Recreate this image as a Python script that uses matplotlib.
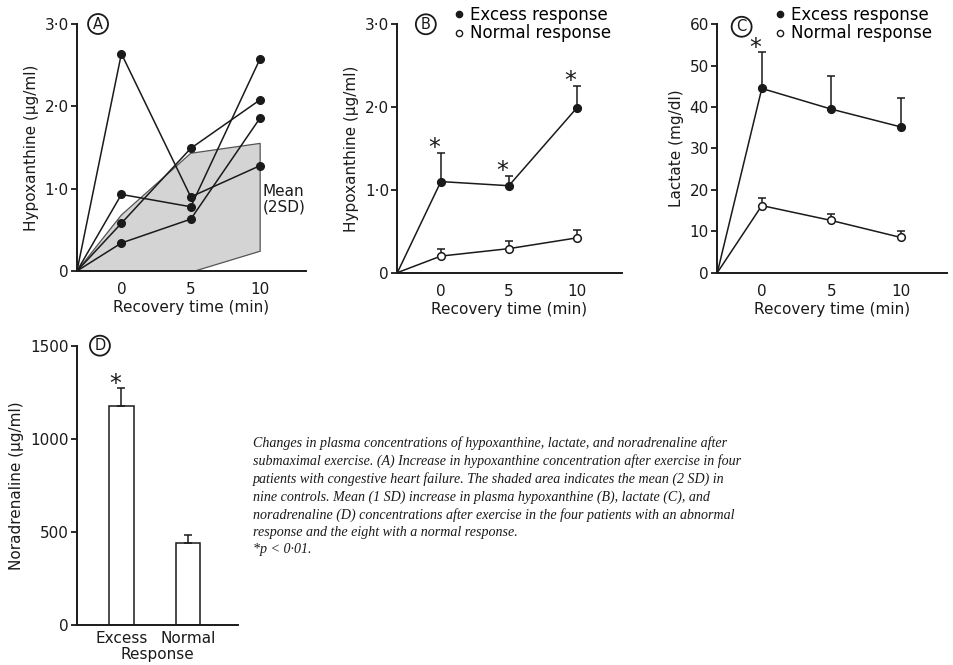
import matplotlib.pyplot as plt
from matplotlib.lines import Line2D

plt.rcParams['font.family'] = ['DejaVu Sans']

# ---- data ----
# panel A: individual patients, time -3.2 is the pre-exercise start point
time_pts = [-3.2, 0, 5, 10]
patient_1 = [0, 2.64, 0.90, 1.28]
patient_2 = [0, 0.93, 0.78, 2.58]
patient_3 = [0, 0.58, 1.49, 2.08]
patient_4 = [0, 0.34, 0.63, 1.86]
ctrl_upper_t = [-3.2, 0, 5, 10]
ctrl_upper = [0, 0.68, 1.43, 1.55]
ctrl_lower_t = [10, 5.3, -3.2]
ctrl_lower = [0.24, 0, 0]

# panel B: hypoxanthine (ug/ml)
hx_excess = [0, 1.10, 1.05, 1.99]
hx_excess_sd = [0.35, 0.12, 0.27]
hx_normal = [0, 0.20, 0.29, 0.42]
hx_normal_sd = [0.08, 0.09, 0.09]

# panel C: lactate (mg/dl)
lac_excess = [0, 44.5, 39.5, 35.2]
lac_excess_sd = [8.8, 8.0, 7.0]
lac_normal = [0, 16.2, 12.6, 8.5]
lac_normal_sd = [1.9, 1.6, 1.6]

# panel D: noradrenaline
groups = ['Excess', 'Normal']
noradr = [1175, 442]
noradr_sd = [95, 40]

hx_ticks = [0, 1, 2, 3]
hx_ticklabels = ['0', '1·0', '2·0', '3·0']
time_ticks = [0, 5, 10]

caption = ("Changes in plasma concentrations of hypoxanthine, lactate, and noradrenaline after\n"
           "submaximal exercise. (A) Increase in hypoxanthine concentration after exercise in four\n"
           "patients with congestive heart failure. The shaded area indicates the mean (2 SD) in\n"
           "nine controls. Mean (1 SD) increase in plasma hypoxanthine (B), lactate (C), and\n"
           "noradrenaline (D) concentrations after exercise in the four patients with an abnormal\n"
           "response and the eight with a normal response.\n"
           "*p < 0·01.")

INK = '#1a1a1a'
FS = 11


def style_axes(ax):
    for side in ['top', 'right']:
        ax.spines[side].set_visible(False)
    for side in ['left', 'bottom']:
        ax.spines[side].set_color(INK)
        ax.spines[side].set_linewidth(1.4)
    ax.tick_params(axis='y', direction='out', length=4, width=1.3, colors=INK, labelsize=FS, pad=2)
    ax.tick_params(axis='x', length=0, colors=INK, labelsize=FS, pad=8)


def circled(ax, letter, x, y):
    ax.text(x, y, letter, transform=ax.transAxes, ha='center', va='center', fontsize=10.5,
            color=INK, clip_on=False,
            bbox=dict(boxstyle='circle,pad=0.17', fc='white', ec=INK, lw=1.3))


def time_axes(ax):
    style_axes(ax)
    ax.set_xlim(-3.2, 13.3)
    ax.set_xticks(time_ticks)
    ax.set_xlabel('Recovery time (min)', fontsize=FS, color=INK, labelpad=2)


def mean_sd(ax, vals, sd, filled):
    ax.plot(time_pts, vals, color=INK, lw=1.1, zorder=2)
    ax.errorbar(time_pts[1:], vals[1:], yerr=[[0] * len(sd), sd], fmt='none',
                ecolor=INK, elinewidth=1.1, capsize=3, capthick=1.1, zorder=2)
    ax.plot(time_pts[1:], vals[1:], 'o', ms=5.5, mec=INK, mew=1.1,
            mfc=INK if filled else 'white', zorder=3)


def star(ax, x, y):
    ax.annotate('*', (x, y), xytext=(-4.5, -5.5), textcoords='offset points', fontsize=17,
                ha='center', va='bottom', color=INK, annotation_clip=False)


def legend(ax, x0):
    handles = [Line2D([], [], ls='none', marker='o', ms=4.5, mfc=INK, mec=INK),
               Line2D([], [], ls='none', marker='o', ms=4.5, mfc='white', mec=INK)]
    ax.legend(handles, ['Excess response', 'Normal response'], loc='upper left',
              bbox_to_anchor=(x0, 1.075), frameon=False, fontsize=12, handlelength=0.5,
              handletextpad=0.4, labelspacing=0.05, borderpad=0, borderaxespad=0)


fig = plt.figure(figsize=(9.54, 6.65), dpi=100)

# A
axA = fig.add_axes([0.0807, 0.5925, 0.240, 0.3714])
time_axes(axA)
poly_t = ctrl_upper_t + ctrl_lower_t
poly_v = ctrl_upper + ctrl_lower
axA.fill(poly_t, poly_v, fc='#d4d4d4', ec='#555555', lw=0.9, zorder=1)
for p in [patient_1, patient_2, patient_3, patient_4]:
    axA.plot(time_pts, p, color=INK, lw=1.1, zorder=2)
    axA.plot(time_pts[1:], p[1:], 'o', ms=5.5, color=INK, zorder=3)
axA.set_ylim(0, 3)
axA.set_yticks(hx_ticks, hx_ticklabels)
axA.set_ylabel('Hypoxanthine (µg/ml)', fontsize=FS, color=INK)
axA.text(10.2, 0.87, 'Mean\n(2SD)', fontsize=FS, color=INK, ha='left', va='center',
         linespacing=1.0, clip_on=False)
circled(axA, 'A', 0.092, 1.0)

# B
axB = fig.add_axes([0.4165, 0.590, 0.2352, 0.3735])
time_axes(axB)
mean_sd(axB, hx_excess, hx_excess_sd, True)
mean_sd(axB, hx_normal, hx_normal_sd, False)
for t, v, s in zip(time_pts[1:], hx_excess[1:], hx_excess_sd):
    star(axB, t, v + s)
axB.set_ylim(0, 3)
axB.set_yticks(hx_ticks, hx_ticklabels)
axB.set_ylabel('Hypoxanthine (µg/ml)', fontsize=FS, color=INK)
circled(axB, 'B', 0.127, 1.0)
legend(axB, 0.258)

# C
axC = fig.add_axes([0.7519, 0.590, 0.2405, 0.3735])
time_axes(axC)
mean_sd(axC, lac_excess, lac_excess_sd, True)
mean_sd(axC, lac_normal, lac_normal_sd, False)
star(axC, time_pts[1], lac_excess[1] + lac_excess_sd[0])
axC.set_ylim(0, 60)
axC.set_yticks(range(0, 61, 10))
axC.set_ylabel('Lactate (mg/dl)', fontsize=FS, color=INK)
circled(axC, 'C', 0.106, 0.99)
legend(axC, 0.255)

# D
axD = fig.add_axes([0.0804, 0.0602, 0.169, 0.42])
style_axes(axD)
xs = range(len(groups))
axD.bar(xs, noradr, width=0.37, fc='white', ec=INK, lw=1.1)
axD.errorbar(xs, noradr, yerr=[[0] * len(groups), noradr_sd], fmt='none', ecolor=INK,
             elinewidth=1.1, capsize=3, capthick=1.1)
star(axD, xs[0], noradr[0] + noradr_sd[0])
axD.set_xlim(-0.67, 1.75)
axD.set_ylim(0, 1500)
axD.set_yticks([0, 500, 1000, 1500])
axD.set_xticks(list(xs), groups)
axD.tick_params(axis='x', pad=4)
axD.set_xlabel('Response', fontsize=FS, color=INK, labelpad=1)
axD.set_ylabel('Noradrenaline (µg/ml)', fontsize=FS, color=INK)
circled(axD, 'D', 0.144, 1.0)

fig.text(0.265, 0.344, caption, fontsize=10.1, family='Liberation Serif', style='italic',
         ha='left', va='top', linespacing=1.39, color=INK)

fig.savefig('out.png', dpi=100)
